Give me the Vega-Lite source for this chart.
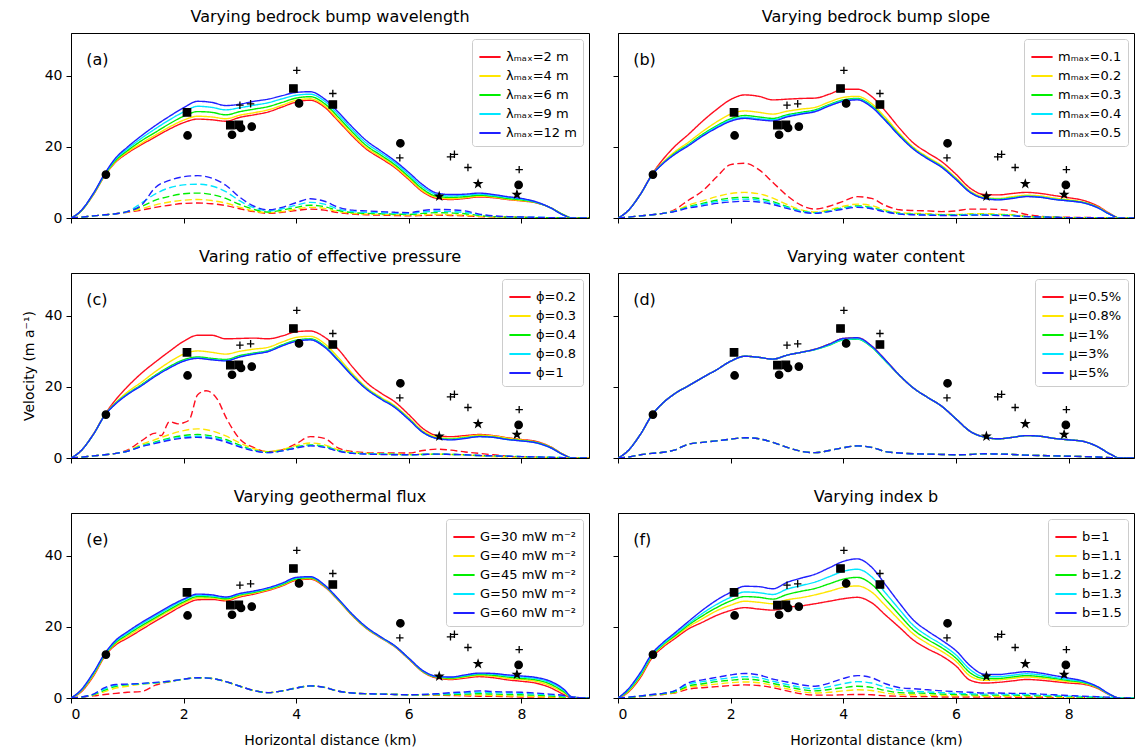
{
"$schema":"https://vega.github.io/schema/vega-lite/v6.json",
"padding":{"left":21,"top":8,"right":0,"bottom":0},
"config":{"font":"DejaVu Sans","view":{"stroke":"black","strokeWidth":1},
"axis":{"grid":false,"domainColor":"black","tickColor":"black","tickSize":5,"labelFontSize":14,"labelColor":"black","titleFontSize":14,"titleFontWeight":"normal","titleColor":"black","labelPadding":4,"format":"d"},
"title":{"fontSize":16,"fontWeight":"normal","offset":8,"color":"black"},
"legend":{"orient":"top-right","offset":6,"fillColor":"white","strokeColor":"#cccccc","cornerRadius":3,"padding":6,"symbolType":"stroke","symbolStrokeWidth":2,"symbolSize":450,"labelFontSize":13,"labelColor":"black","rowPadding":0}},
"columns":2,"align":"each","spacing":{"row":22,"column":22},
"resolve":{"scale":{"x":"independent","y":"independent","color":"independent","shape":"independent","strokeDash":"independent"},"legend":{"color":"independent"}},
"datasets":{
"obs":[
{"m":"circle","x":0.62,"y":12.2},{"m":"circle","x":2.07,"y":23.2},{"m":"circle","x":2.86,"y":23.4},{"m":"circle","x":3.02,"y":25.3},{"m":"circle","x":3.21,"y":25.7},{"m":"circle","x":4.05,"y":32.2},{"m":"circle","x":5.85,"y":21.0},{"m":"circle","x":7.95,"y":9.3},
{"m":"square","x":2.06,"y":29.7},{"m":"square","x":2.83,"y":26.1},{"m":"square","x":2.98,"y":26.2},{"m":"square","x":3.95,"y":36.4},{"m":"square","x":4.65,"y":31.9},
{"m":"plus","x":3.0,"y":31.7},{"m":"plus","x":3.19,"y":32.1},{"m":"plus","x":4.01,"y":41.5},{"m":"plus","x":4.65,"y":35.0},{"m":"plus","x":5.84,"y":16.9},{"m":"plus","x":6.74,"y":17.2},{"m":"plus","x":6.81,"y":17.9},{"m":"plus","x":7.05,"y":14.2},{"m":"plus","x":7.96,"y":13.6},
{"m":"star","x":6.54,"y":6.1},{"m":"star","x":7.23,"y":9.6},{"m":"star","x":7.92,"y":6.6}
],
"lines":[
{"p":"a","t":"s","x":0,"v1":0,"v2":0,"v3":0,"v4":0,"v5":0},
{"p":"a","t":"s","x":0.15,"v1":1.5,"v2":1.5,"v3":1.5,"v4":1.6,"v5":1.6},
{"p":"a","t":"s","x":0.4,"v1":6.6,"v2":6.7,"v3":6.8,"v4":6.9,"v5":7.0},
{"p":"a","t":"s","x":0.6,"v1":11.9,"v2":12.0,"v3":12.2,"v4":12.3,"v5":12.5},
{"p":"a","t":"s","x":0.8,"v1":15.8,"v2":16.0,"v3":16.3,"v4":16.7,"v5":17.0},
{"p":"a","t":"s","x":1.0,"v1":18.2,"v2":18.5,"v3":18.9,"v4":19.4,"v5":19.9},
{"p":"a","t":"s","x":1.25,"v1":20.6,"v2":21.0,"v3":21.7,"v4":22.4,"v5":23.1},
{"p":"a","t":"s","x":1.5,"v1":22.8,"v2":23.3,"v3":24.1,"v4":25.1,"v5":26.0},
{"p":"a","t":"s","x":1.75,"v1":25.0,"v2":25.6,"v3":26.5,"v4":27.6,"v5":28.6},
{"p":"a","t":"s","x":2.0,"v1":26.8,"v2":27.5,"v3":28.6,"v4":29.8,"v5":31.0},
{"p":"a","t":"s","x":2.25,"v1":27.8,"v2":28.6,"v3":29.9,"v4":31.4,"v5":32.8},
{"p":"a","t":"s","x":2.5,"v1":27.6,"v2":28.4,"v3":29.7,"v4":31.1,"v5":32.5},
{"p":"a","t":"s","x":2.75,"v1":27.2,"v2":27.9,"v3":29.0,"v4":30.4,"v5":31.6},
{"p":"a","t":"s","x":3.0,"v1":28.3,"v2":28.9,"v3":29.9,"v4":31.0,"v5":32.0},
{"p":"a","t":"s","x":3.25,"v1":29.0,"v2":29.6,"v3":30.6,"v4":31.7,"v5":32.8},
{"p":"a","t":"s","x":3.5,"v1":29.8,"v2":30.4,"v3":31.3,"v4":32.4,"v5":33.4},
{"p":"a","t":"s","x":3.75,"v1":31.2,"v2":31.7,"v3":32.5,"v4":33.5,"v5":34.4},
{"p":"a","t":"s","x":4.0,"v1":32.6,"v2":33.1,"v3":33.7,"v4":34.5,"v5":35.3},
{"p":"a","t":"s","x":4.25,"v1":33.1,"v2":33.5,"v3":34.1,"v4":34.8,"v5":35.5},
{"p":"a","t":"s","x":4.5,"v1":31.2,"v2":31.6,"v3":32.2,"v4":32.9,"v5":33.5},
{"p":"a","t":"s","x":4.75,"v1":27.2,"v2":27.6,"v3":28.3,"v4":29.0,"v5":29.7},
{"p":"a","t":"s","x":5.0,"v1":23.0,"v2":23.4,"v3":24.1,"v4":24.8,"v5":25.5},
{"p":"a","t":"s","x":5.25,"v1":19.3,"v2":19.7,"v3":20.3,"v4":21.0,"v5":21.7},
{"p":"a","t":"s","x":5.5,"v1":16.8,"v2":17.2,"v3":17.7,"v4":18.3,"v5":18.9},
{"p":"a","t":"s","x":5.75,"v1":14.2,"v2":14.5,"v3":15.0,"v4":15.6,"v5":16.1},
{"p":"a","t":"s","x":6.0,"v1":10.8,"v2":11.1,"v3":11.6,"v4":12.2,"v5":12.8},
{"p":"a","t":"s","x":6.25,"v1":7.3,"v2":7.6,"v3":8.1,"v4":8.7,"v5":9.3},
{"p":"a","t":"s","x":6.5,"v1":5.5,"v2":5.8,"v3":6.1,"v4":6.6,"v5":7.0},
{"p":"a","t":"s","x":6.75,"v1":5.2,"v2":5.4,"v3":5.8,"v4":6.2,"v5":6.6},
{"p":"a","t":"s","x":7.0,"v1":5.5,"v2":5.7,"v3":6.0,"v4":6.4,"v5":6.7},
{"p":"a","t":"s","x":7.25,"v1":5.9,"v2":6.1,"v3":6.4,"v4":6.7,"v5":7.0},
{"p":"a","t":"s","x":7.5,"v1":5.7,"v2":5.9,"v3":6.1,"v4":6.3,"v5":6.6},
{"p":"a","t":"s","x":7.75,"v1":5.2,"v2":5.3,"v3":5.5,"v4":5.8,"v5":6.0},
{"p":"a","t":"s","x":8.0,"v1":4.8,"v2":4.9,"v3":5.1,"v4":5.3,"v5":5.5},
{"p":"a","t":"s","x":8.25,"v1":4.3,"v2":4.4,"v3":4.4,"v4":4.5,"v5":4.6},
{"p":"a","t":"s","x":8.5,"v1":3.0,"v2":3.0,"v3":3.0,"v4":3.0,"v5":3.0},
{"p":"a","t":"s","x":8.75,"v1":0.9,"v2":0.9,"v3":0.9,"v4":0.8,"v5":0.8},
{"p":"a","t":"s","x":8.9,"v1":0,"v2":0,"v3":0,"v4":0,"v5":0},
{"p":"a","t":"s","x":9.2,"v1":0,"v2":0,"v3":0,"v4":0,"v5":0},
{"p":"a","t":"d","x":0,"v1":0,"v2":0,"v3":0,"v4":0,"v5":0},
{"p":"a","t":"d","x":0.15,"v1":0.2,"v2":0.2,"v3":0.2,"v4":0.2,"v5":0.2},
{"p":"a","t":"d","x":0.4,"v1":0.6,"v2":0.6,"v3":0.6,"v4":0.6,"v5":0.6},
{"p":"a","t":"d","x":0.6,"v1":0.9,"v2":0.9,"v3":0.9,"v4":0.9,"v5":0.9},
{"p":"a","t":"d","x":0.8,"v1":1.2,"v2":1.2,"v3":1.2,"v4":1.2,"v5":1.2},
{"p":"a","t":"d","x":1.0,"v1":1.6,"v2":1.7,"v3":1.8,"v4":1.8,"v5":1.8},
{"p":"a","t":"d","x":1.25,"v1":2.2,"v2":2.6,"v3":3.2,"v4":4.2,"v5":3.6},
{"p":"a","t":"d","x":1.5,"v1":3.0,"v2":3.7,"v3":5.0,"v4":6.8,"v5":8.6},
{"p":"a","t":"d","x":1.75,"v1":3.6,"v2":4.5,"v3":6.1,"v4":8.5,"v5":10.6},
{"p":"a","t":"d","x":2.0,"v1":4.1,"v2":5.0,"v3":6.8,"v4":9.3,"v5":11.6},
{"p":"a","t":"d","x":2.25,"v1":4.2,"v2":5.2,"v3":7.0,"v4":9.5,"v5":11.9},
{"p":"a","t":"d","x":2.5,"v1":4.0,"v2":4.9,"v3":6.6,"v4":9.0,"v5":11.2},
{"p":"a","t":"d","x":2.75,"v1":3.5,"v2":4.2,"v3":5.5,"v4":7.4,"v5":9.2},
{"p":"a","t":"d","x":3.0,"v1":2.6,"v2":3.0,"v3":3.8,"v4":4.8,"v5":5.8},
{"p":"a","t":"d","x":3.25,"v1":1.8,"v2":2.0,"v3":2.4,"v4":2.9,"v5":3.3},
{"p":"a","t":"d","x":3.5,"v1":1.3,"v2":1.5,"v3":1.7,"v4":2.0,"v5":2.3},
{"p":"a","t":"d","x":3.75,"v1":1.6,"v2":1.8,"v3":2.2,"v4":2.6,"v5":3.0},
{"p":"a","t":"d","x":4.0,"v1":2.1,"v2":2.5,"v3":3.0,"v4":3.6,"v5":4.3},
{"p":"a","t":"d","x":4.25,"v1":2.5,"v2":3.0,"v3":3.6,"v4":4.4,"v5":5.4},
{"p":"a","t":"d","x":4.5,"v1":2.2,"v2":2.7,"v3":3.2,"v4":3.9,"v5":4.7},
{"p":"a","t":"d","x":4.75,"v1":1.5,"v2":1.8,"v3":2.1,"v4":2.5,"v5":3.0},
{"p":"a","t":"d","x":5.0,"v1":1.1,"v2":1.3,"v3":1.5,"v4":1.8,"v5":2.2},
{"p":"a","t":"d","x":5.25,"v1":0.9,"v2":1.1,"v3":1.3,"v4":1.6,"v5":2.0},
{"p":"a","t":"d","x":5.5,"v1":0.8,"v2":1.0,"v3":1.2,"v4":1.5,"v5":1.8},
{"p":"a","t":"d","x":5.75,"v1":0.7,"v2":0.9,"v3":1.1,"v4":1.3,"v5":1.6},
{"p":"a","t":"d","x":6.0,"v1":0.6,"v2":0.8,"v3":1.0,"v4":1.2,"v5":1.5},
{"p":"a","t":"d","x":6.25,"v1":0.7,"v2":0.9,"v3":1.3,"v4":1.7,"v5":2.1},
{"p":"a","t":"d","x":6.5,"v1":0.8,"v2":1.0,"v3":1.5,"v4":1.9,"v5":2.4},
{"p":"a","t":"d","x":6.75,"v1":0.7,"v2":0.9,"v3":1.4,"v4":1.8,"v5":2.3},
{"p":"a","t":"d","x":7.0,"v1":0.6,"v2":0.8,"v3":1.2,"v4":1.6,"v5":2.0},
{"p":"a","t":"d","x":7.25,"v1":0.4,"v2":0.5,"v3":0.7,"v4":0.9,"v5":1.1},
{"p":"a","t":"d","x":7.5,"v1":0.3,"v2":0.3,"v3":0.4,"v4":0.5,"v5":0.6},
{"p":"a","t":"d","x":7.75,"v1":0.2,"v2":0.2,"v3":0.3,"v4":0.3,"v5":0.4},
{"p":"a","t":"d","x":8.0,"v1":0.2,"v2":0.2,"v3":0.2,"v4":0.2,"v5":0.3},
{"p":"a","t":"d","x":8.25,"v1":0.1,"v2":0.1,"v3":0.1,"v4":0.2,"v5":0.2},
{"p":"a","t":"d","x":8.5,"v1":0.1,"v2":0.1,"v3":0.1,"v4":0.1,"v5":0.1},
{"p":"a","t":"d","x":8.75,"v1":0,"v2":0,"v3":0,"v4":0,"v5":0},
{"p":"a","t":"d","x":9.2,"v1":0,"v2":0,"v3":0,"v4":0,"v5":0},
{"p":"b","t":"s","x":0,"v1":0,"v2":0,"v3":0,"v4":0,"v5":0},
{"p":"b","t":"s","x":0.15,"v1":1.6,"v2":1.6,"v3":1.6,"v4":1.6,"v5":1.6},
{"p":"b","t":"s","x":0.4,"v1":6.8,"v2":6.7,"v3":6.7,"v4":6.7,"v5":6.7},
{"p":"b","t":"s","x":0.6,"v1":12.2,"v2":12.1,"v3":12.0,"v4":12.0,"v5":12.0},
{"p":"b","t":"s","x":0.8,"v1":16.5,"v2":15.7,"v3":15.4,"v4":15.4,"v5":15.3},
{"p":"b","t":"s","x":1.0,"v1":20.0,"v2":18.5,"v3":18.1,"v4":17.9,"v5":17.8},
{"p":"b","t":"s","x":1.25,"v1":23.5,"v2":21.3,"v3":20.7,"v4":20.5,"v5":20.3},
{"p":"b","t":"s","x":1.5,"v1":27.2,"v2":24.3,"v3":23.5,"v4":23.2,"v5":23.0},
{"p":"b","t":"s","x":1.75,"v1":30.5,"v2":27.0,"v3":25.9,"v4":25.6,"v5":25.3},
{"p":"b","t":"s","x":2.0,"v1":33.3,"v2":29.2,"v3":27.9,"v4":27.5,"v5":27.2},
{"p":"b","t":"s","x":2.25,"v1":34.6,"v2":30.1,"v3":28.8,"v4":28.3,"v5":28.0},
{"p":"b","t":"s","x":2.5,"v1":34.2,"v2":29.7,"v3":28.4,"v4":27.9,"v5":27.6},
{"p":"b","t":"s","x":2.75,"v1":33.2,"v2":29.2,"v3":28.0,"v4":27.6,"v5":27.3},
{"p":"b","t":"s","x":3.0,"v1":33.4,"v2":30.0,"v3":29.0,"v4":28.7,"v5":28.4},
{"p":"b","t":"s","x":3.25,"v1":33.6,"v2":30.6,"v3":29.7,"v4":29.4,"v5":29.2},
{"p":"b","t":"s","x":3.5,"v1":33.7,"v2":31.1,"v3":30.4,"v4":30.1,"v5":29.9},
{"p":"b","t":"s","x":3.75,"v1":34.8,"v2":32.6,"v3":31.9,"v4":31.7,"v5":31.5},
{"p":"b","t":"s","x":4.0,"v1":36.2,"v2":33.9,"v3":33.2,"v4":33.0,"v5":32.8},
{"p":"b","t":"s","x":4.25,"v1":36.2,"v2":34.2,"v3":33.6,"v4":33.4,"v5":33.2},
{"p":"b","t":"s","x":4.5,"v1":34.2,"v2":32.2,"v3":31.6,"v4":31.4,"v5":31.2},
{"p":"b","t":"s","x":4.75,"v1":30.0,"v2":28.2,"v3":27.6,"v4":27.4,"v5":27.3},
{"p":"b","t":"s","x":5.0,"v1":25.2,"v2":23.7,"v3":23.3,"v4":23.1,"v5":23.0},
{"p":"b","t":"s","x":5.25,"v1":21.0,"v2":19.8,"v3":19.5,"v4":19.4,"v5":19.3},
{"p":"b","t":"s","x":5.5,"v1":18.3,"v2":17.1,"v3":16.8,"v4":16.7,"v5":16.6},
{"p":"b","t":"s","x":5.75,"v1":15.8,"v2":14.7,"v3":14.4,"v4":14.3,"v5":14.2},
{"p":"b","t":"s","x":6.0,"v1":12.3,"v2":11.3,"v3":11.0,"v4":10.9,"v5":10.8},
{"p":"b","t":"s","x":6.25,"v1":8.4,"v2":7.6,"v3":7.3,"v4":7.3,"v5":7.2},
{"p":"b","t":"s","x":6.5,"v1":6.6,"v2":5.9,"v3":5.6,"v4":5.6,"v5":5.5},
{"p":"b","t":"s","x":6.75,"v1":6.5,"v2":5.5,"v3":5.3,"v4":5.2,"v5":5.1},
{"p":"b","t":"s","x":7.0,"v1":6.9,"v2":6.0,"v3":5.7,"v4":5.6,"v5":5.5},
{"p":"b","t":"s","x":7.25,"v1":7.2,"v2":6.4,"v3":6.1,"v4":6.1,"v5":6.0},
{"p":"b","t":"s","x":7.5,"v1":6.9,"v2":6.2,"v3":5.9,"v4":5.9,"v5":5.8},
{"p":"b","t":"s","x":7.75,"v1":6.3,"v2":5.6,"v3":5.3,"v4":5.3,"v5":5.2},
{"p":"b","t":"s","x":8.0,"v1":5.7,"v2":5.1,"v3":4.9,"v4":4.8,"v5":4.8},
{"p":"b","t":"s","x":8.25,"v1":5.0,"v2":4.5,"v3":4.4,"v4":4.3,"v5":4.3},
{"p":"b","t":"s","x":8.5,"v1":3.5,"v2":3.2,"v3":3.1,"v4":3.0,"v5":3.0},
{"p":"b","t":"s","x":8.75,"v1":1.1,"v2":1.0,"v3":0.9,"v4":0.9,"v5":0.9},
{"p":"b","t":"s","x":8.9,"v1":0,"v2":0,"v3":0,"v4":0,"v5":0},
{"p":"b","t":"s","x":9.2,"v1":0,"v2":0,"v3":0,"v4":0,"v5":0},
{"p":"b","t":"d","x":0,"v1":0,"v2":0,"v3":0,"v4":0,"v5":0},
{"p":"b","t":"d","x":0.15,"v1":0.2,"v2":0.2,"v3":0.2,"v4":0.2,"v5":0.2},
{"p":"b","t":"d","x":0.4,"v1":0.6,"v2":0.6,"v3":0.6,"v4":0.6,"v5":0.6},
{"p":"b","t":"d","x":0.6,"v1":0.9,"v2":0.9,"v3":0.9,"v4":0.9,"v5":0.9},
{"p":"b","t":"d","x":0.8,"v1":1.3,"v2":1.3,"v3":1.3,"v4":1.3,"v5":1.3},
{"p":"b","t":"d","x":1.0,"v1":2.3,"v2":2.0,"v3":1.9,"v4":1.9,"v5":1.8},
{"p":"b","t":"d","x":1.25,"v1":5.0,"v2":3.6,"v3":3.2,"v4":3.0,"v5":2.8},
{"p":"b","t":"d","x":1.5,"v1":7.6,"v2":4.8,"v3":4.1,"v4":3.8,"v5":3.4},
{"p":"b","t":"d","x":1.75,"v1":11.5,"v2":6.0,"v3":5.0,"v4":4.6,"v5":4.1},
{"p":"b","t":"d","x":2.0,"v1":15.0,"v2":6.9,"v3":5.6,"v4":5.1,"v5":4.5},
{"p":"b","t":"d","x":2.25,"v1":15.4,"v2":7.2,"v3":5.8,"v4":5.3,"v5":4.7},
{"p":"b","t":"d","x":2.5,"v1":13.6,"v2":6.8,"v3":5.5,"v4":5.0,"v5":4.5},
{"p":"b","t":"d","x":2.75,"v1":10.0,"v2":5.6,"v3":4.6,"v4":4.2,"v5":3.8},
{"p":"b","t":"d","x":3.0,"v1":6.3,"v2":3.8,"v3":3.2,"v4":3.0,"v5":2.7},
{"p":"b","t":"d","x":3.25,"v1":3.6,"v2":2.3,"v3":2.0,"v4":1.9,"v5":1.7},
{"p":"b","t":"d","x":3.5,"v1":2.5,"v2":1.7,"v3":1.5,"v4":1.4,"v5":1.3},
{"p":"b","t":"d","x":3.75,"v1":3.3,"v2":2.3,"v3":2.0,"v4":1.9,"v5":1.8},
{"p":"b","t":"d","x":4.0,"v1":4.7,"v2":3.3,"v3":2.9,"v4":2.7,"v5":2.5},
{"p":"b","t":"d","x":4.25,"v1":6.0,"v2":3.9,"v3":3.4,"v4":3.2,"v5":3.0},
{"p":"b","t":"d","x":4.5,"v1":5.5,"v2":3.5,"v3":3.0,"v4":2.8,"v5":2.6},
{"p":"b","t":"d","x":4.75,"v1":3.5,"v2":2.2,"v3":1.9,"v4":1.8,"v5":1.7},
{"p":"b","t":"d","x":5.0,"v1":2.3,"v2":1.5,"v3":1.3,"v4":1.2,"v5":1.1},
{"p":"b","t":"d","x":5.25,"v1":2.1,"v2":1.3,"v3":1.1,"v4":1.0,"v5":0.9},
{"p":"b","t":"d","x":5.5,"v1":2.0,"v2":1.2,"v3":1.0,"v4":0.9,"v5":0.8},
{"p":"b","t":"d","x":5.75,"v1":1.8,"v2":1.0,"v3":0.9,"v4":0.8,"v5":0.7},
{"p":"b","t":"d","x":6.0,"v1":2.0,"v2":1.0,"v3":0.9,"v4":0.8,"v5":0.7},
{"p":"b","t":"d","x":6.25,"v1":2.5,"v2":1.2,"v3":1.0,"v4":0.9,"v5":0.8},
{"p":"b","t":"d","x":6.5,"v1":2.5,"v2":1.2,"v3":1.0,"v4":0.9,"v5":0.8},
{"p":"b","t":"d","x":6.75,"v1":2.4,"v2":1.1,"v3":0.9,"v4":0.8,"v5":0.7},
{"p":"b","t":"d","x":7.0,"v1":2.0,"v2":0.9,"v3":0.8,"v4":0.7,"v5":0.6},
{"p":"b","t":"d","x":7.25,"v1":1.0,"v2":0.5,"v3":0.4,"v4":0.4,"v5":0.4},
{"p":"b","t":"d","x":7.5,"v1":0.5,"v2":0.3,"v3":0.3,"v4":0.3,"v5":0.3},
{"p":"b","t":"d","x":7.75,"v1":0.3,"v2":0.2,"v3":0.2,"v4":0.2,"v5":0.2},
{"p":"b","t":"d","x":8.0,"v1":0.2,"v2":0.1,"v3":0.1,"v4":0.1,"v5":0.1},
{"p":"b","t":"d","x":8.5,"v1":0.1,"v2":0.1,"v3":0.1,"v4":0.1,"v5":0.1},
{"p":"b","t":"d","x":8.75,"v1":0,"v2":0,"v3":0,"v4":0,"v5":0},
{"p":"b","t":"d","x":9.2,"v1":0,"v2":0,"v3":0,"v4":0,"v5":0},
{"p":"c","t":"s","x":0,"v1":0,"v2":0,"v3":0,"v4":0,"v5":0},
{"p":"c","t":"s","x":0.15,"v1":1.6,"v2":1.6,"v3":1.6,"v4":1.6,"v5":1.6},
{"p":"c","t":"s","x":0.4,"v1":6.8,"v2":6.7,"v3":6.7,"v4":6.7,"v5":6.7},
{"p":"c","t":"s","x":0.6,"v1":12.2,"v2":12.1,"v3":12.0,"v4":12.0,"v5":12.0},
{"p":"c","t":"s","x":0.8,"v1":16.5,"v2":15.7,"v3":15.5,"v4":15.4,"v5":15.3},
{"p":"c","t":"s","x":1.0,"v1":20.0,"v2":18.5,"v3":18.0,"v4":17.9,"v5":17.8},
{"p":"c","t":"s","x":1.25,"v1":23.8,"v2":21.3,"v3":20.6,"v4":20.4,"v5":20.3},
{"p":"c","t":"s","x":1.5,"v1":27.0,"v2":24.3,"v3":23.3,"v4":23.1,"v5":23.0},
{"p":"c","t":"s","x":1.75,"v1":30.0,"v2":27.0,"v3":25.7,"v4":25.4,"v5":25.3},
{"p":"c","t":"s","x":2.0,"v1":32.8,"v2":29.2,"v3":27.6,"v4":27.3,"v5":27.2},
{"p":"c","t":"s","x":2.25,"v1":34.5,"v2":30.1,"v3":28.4,"v4":28.1,"v5":28.0},
{"p":"c","t":"s","x":2.5,"v1":34.5,"v2":29.7,"v3":28.0,"v4":27.7,"v5":27.6},
{"p":"c","t":"s","x":2.75,"v1":33.5,"v2":29.2,"v3":27.7,"v4":27.4,"v5":27.3},
{"p":"c","t":"s","x":3.0,"v1":33.6,"v2":30.0,"v3":28.8,"v4":28.5,"v5":28.4},
{"p":"c","t":"s","x":3.25,"v1":33.7,"v2":30.6,"v3":29.5,"v4":29.3,"v5":29.2},
{"p":"c","t":"s","x":3.5,"v1":33.5,"v2":31.1,"v3":30.2,"v4":30.0,"v5":29.9},
{"p":"c","t":"s","x":3.75,"v1":34.3,"v2":32.6,"v3":31.8,"v4":31.6,"v5":31.5},
{"p":"c","t":"s","x":4.0,"v1":35.5,"v2":33.9,"v3":33.1,"v4":32.9,"v5":32.8},
{"p":"c","t":"s","x":4.25,"v1":35.7,"v2":34.2,"v3":33.5,"v4":33.3,"v5":33.2},
{"p":"c","t":"s","x":4.5,"v1":34.0,"v2":32.2,"v3":31.5,"v4":31.3,"v5":31.2},
{"p":"c","t":"s","x":4.75,"v1":30.5,"v2":28.2,"v3":27.5,"v4":27.4,"v5":27.3},
{"p":"c","t":"s","x":5.0,"v1":25.6,"v2":23.7,"v3":23.2,"v4":23.1,"v5":23.0},
{"p":"c","t":"s","x":5.25,"v1":21.2,"v2":19.8,"v3":19.5,"v4":19.4,"v5":19.3},
{"p":"c","t":"s","x":5.5,"v1":18.3,"v2":17.1,"v3":16.8,"v4":16.7,"v5":16.6},
{"p":"c","t":"s","x":5.75,"v1":15.8,"v2":14.7,"v3":14.4,"v4":14.3,"v5":14.2},
{"p":"c","t":"s","x":6.0,"v1":12.2,"v2":11.3,"v3":11.0,"v4":10.9,"v5":10.8},
{"p":"c","t":"s","x":6.25,"v1":8.3,"v2":7.6,"v3":7.3,"v4":7.2,"v5":7.2},
{"p":"c","t":"s","x":6.5,"v1":6.3,"v2":5.9,"v3":5.6,"v4":5.5,"v5":5.5},
{"p":"c","t":"s","x":6.75,"v1":6.0,"v2":5.5,"v3":5.3,"v4":5.2,"v5":5.1},
{"p":"c","t":"s","x":7.0,"v1":6.3,"v2":6.0,"v3":5.7,"v4":5.6,"v5":5.5},
{"p":"c","t":"s","x":7.25,"v1":6.6,"v2":6.4,"v3":6.1,"v4":6.0,"v5":6.0},
{"p":"c","t":"s","x":7.5,"v1":6.3,"v2":6.2,"v3":5.9,"v4":5.8,"v5":5.8},
{"p":"c","t":"s","x":7.75,"v1":5.7,"v2":5.6,"v3":5.3,"v4":5.2,"v5":5.2},
{"p":"c","t":"s","x":8.0,"v1":5.2,"v2":5.1,"v3":4.9,"v4":4.8,"v5":4.8},
{"p":"c","t":"s","x":8.25,"v1":4.7,"v2":4.5,"v3":4.4,"v4":4.3,"v5":4.3},
{"p":"c","t":"s","x":8.5,"v1":3.3,"v2":3.2,"v3":3.1,"v4":3.0,"v5":3.0},
{"p":"c","t":"s","x":8.75,"v1":1.0,"v2":1.0,"v3":0.9,"v4":0.9,"v5":0.9},
{"p":"c","t":"s","x":8.9,"v1":0,"v2":0,"v3":0,"v4":0,"v5":0},
{"p":"c","t":"s","x":9.2,"v1":0,"v2":0,"v3":0,"v4":0,"v5":0},
{"p":"c","t":"d","x":0,"v1":0,"v2":0,"v3":0,"v4":0,"v5":0},
{"p":"c","t":"d","x":0.15,"v1":0.2,"v2":0.2,"v3":0.2,"v4":0.2,"v5":0.2},
{"p":"c","t":"d","x":0.4,"v1":0.6,"v2":0.6,"v3":0.6,"v4":0.6,"v5":0.6},
{"p":"c","t":"d","x":0.6,"v1":0.9,"v2":0.9,"v3":0.9,"v4":0.9,"v5":0.9},
{"p":"c","t":"d","x":0.8,"v1":1.3,"v2":1.3,"v3":1.3,"v4":1.3,"v5":1.3},
{"p":"c","t":"d","x":1.0,"v1":2.2,"v2":2.0,"v3":1.9,"v4":1.9,"v5":1.9},
{"p":"c","t":"d","x":1.25,"v1":4.8,"v2":3.8,"v3":3.4,"v4":3.3,"v5":3.2},
{"p":"c","t":"d","x":1.5,"v1":7.0,"v2":5.2,"v3":4.5,"v4":4.3,"v5":4.1},
{"p":"c","t":"d","x":1.6,"v1":6.3},
{"p":"c","t":"d","x":1.75,"v1":10.2,"v2":6.6,"v3":5.6,"v4":5.3,"v5":5.0},
{"p":"c","t":"d","x":1.9,"v1":9.6},
{"p":"c","t":"d","x":2.0,"v1":9.9,"v2":7.7,"v3":6.3,"v4":5.9,"v5":5.6},
{"p":"c","t":"d","x":2.1,"v1":10.7},
{"p":"c","t":"d","x":2.25,"v1":17.8,"v2":8.2,"v3":6.6,"v4":6.1,"v5":5.8},
{"p":"c","t":"d","x":2.4,"v1":18.9},
{"p":"c","t":"d","x":2.5,"v1":18.3,"v2":7.6,"v3":6.2,"v4":5.8,"v5":5.5},
{"p":"c","t":"d","x":2.6,"v1":16.5},
{"p":"c","t":"d","x":2.75,"v1":11.5,"v2":6.2,"v3":5.2,"v4":4.8,"v5":4.5},
{"p":"c","t":"d","x":3.0,"v1":5.3,"v2":4.2,"v3":3.6,"v4":3.3,"v5":3.1},
{"p":"c","t":"d","x":3.25,"v1":2.9,"v2":2.6,"v3":2.2,"v4":2.1,"v5":2.0},
{"p":"c","t":"d","x":3.5,"v1":1.8,"v2":1.8,"v3":1.6,"v4":1.5,"v5":1.5},
{"p":"c","t":"d","x":3.75,"v1":2.3,"v2":2.4,"v3":2.1,"v4":2.0,"v5":2.0},
{"p":"c","t":"d","x":4.0,"v1":4.0,"v2":3.5,"v3":3.1,"v4":2.9,"v5":2.8},
{"p":"c","t":"d","x":4.25,"v1":6.0,"v2":4.2,"v3":3.7,"v4":3.5,"v5":3.4},
{"p":"c","t":"d","x":4.5,"v1":5.5,"v2":3.7,"v3":3.3,"v4":3.1,"v5":3.0},
{"p":"c","t":"d","x":4.75,"v1":2.8,"v2":2.3,"v3":2.1,"v4":2.0,"v5":1.9},
{"p":"c","t":"d","x":5.0,"v1":1.8,"v2":1.6,"v3":1.4,"v4":1.4,"v5":1.3},
{"p":"c","t":"d","x":5.25,"v1":1.5,"v2":1.3,"v3":1.2,"v4":1.2,"v5":1.1},
{"p":"c","t":"d","x":5.5,"v1":1.4,"v2":1.2,"v3":1.1,"v4":1.1,"v5":1.0},
{"p":"c","t":"d","x":5.75,"v1":1.4,"v2":1.1,"v3":1.0,"v4":1.0,"v5":0.9},
{"p":"c","t":"d","x":6.0,"v1":1.4,"v2":1.0,"v3":0.9,"v4":0.9,"v5":0.9},
{"p":"c","t":"d","x":6.25,"v1":2.1,"v2":1.1,"v3":1.0,"v4":1.0,"v5":1.0},
{"p":"c","t":"d","x":6.5,"v1":2.5,"v2":1.1,"v3":1.1,"v4":1.1,"v5":1.1},
{"p":"c","t":"d","x":6.75,"v1":2.2,"v2":1.0,"v3":1.0,"v4":1.0,"v5":1.0},
{"p":"c","t":"d","x":7.0,"v1":1.7,"v2":0.9,"v3":0.9,"v4":0.9,"v5":0.9},
{"p":"c","t":"d","x":7.25,"v1":1.3,"v2":0.6,"v3":0.7,"v4":0.7,"v5":0.7},
{"p":"c","t":"d","x":7.5,"v1":0.9,"v2":0.4,"v3":0.6,"v4":0.6,"v5":0.6},
{"p":"c","t":"d","x":7.75,"v1":0.5,"v2":0.3,"v3":0.5,"v4":0.5,"v5":0.5},
{"p":"c","t":"d","x":8.0,"v1":0.3,"v2":0.2,"v3":0.4,"v4":0.4,"v5":0.4},
{"p":"c","t":"d","x":8.25,"v1":0.2,"v2":0.1,"v3":0.3,"v4":0.3,"v5":0.3},
{"p":"c","t":"d","x":8.5,"v1":0.1,"v2":0.1,"v3":0.2,"v4":0.2,"v5":0.2},
{"p":"c","t":"d","x":8.75,"v1":0,"v2":0,"v3":0.1,"v4":0.1,"v5":0.1},
{"p":"c","t":"d","x":8.9,"v1":0,"v2":0,"v3":0,"v4":0,"v5":0},
{"p":"c","t":"d","x":9.2,"v1":0,"v2":0,"v3":0,"v4":0,"v5":0},
{"p":"d","t":"s","x":0,"v1":0,"v2":0,"v3":0,"v4":0,"v5":0},
{"p":"d","t":"s","x":0.15,"v1":1.6,"v2":1.6,"v3":1.6,"v4":1.6,"v5":1.6},
{"p":"d","t":"s","x":0.4,"v1":6.7,"v2":6.7,"v3":6.7,"v4":6.7,"v5":6.7},
{"p":"d","t":"s","x":0.6,"v1":12.0,"v2":12.0,"v3":12.0,"v4":12.0,"v5":12.0},
{"p":"d","t":"s","x":0.8,"v1":15.5,"v2":15.5,"v3":15.5,"v4":15.5,"v5":15.5},
{"p":"d","t":"s","x":1.0,"v1":18.0,"v2":18.0,"v3":18.0,"v4":18.0,"v5":18.0},
{"p":"d","t":"s","x":1.25,"v1":20.3,"v2":20.3,"v3":20.3,"v4":20.3,"v5":20.3},
{"p":"d","t":"s","x":1.5,"v1":22.6,"v2":22.6,"v3":22.6,"v4":22.6,"v5":22.6},
{"p":"d","t":"s","x":1.75,"v1":24.8,"v2":24.8,"v3":24.8,"v4":24.8,"v5":24.8},
{"p":"d","t":"s","x":2.0,"v1":27.2,"v2":27.2,"v3":27.2,"v4":27.2,"v5":27.2},
{"p":"d","t":"s","x":2.25,"v1":28.6,"v2":28.6,"v3":28.6,"v4":28.6,"v5":28.6},
{"p":"d","t":"s","x":2.5,"v1":28.3,"v2":28.3,"v3":28.3,"v4":28.3,"v5":28.3},
{"p":"d","t":"s","x":2.75,"v1":27.8,"v2":27.8,"v3":27.8,"v4":27.8,"v5":27.8},
{"p":"d","t":"s","x":3.0,"v1":28.9,"v2":28.9,"v3":28.9,"v4":28.9,"v5":28.9},
{"p":"d","t":"s","x":3.25,"v1":29.7,"v2":29.7,"v3":29.7,"v4":29.7,"v5":29.7},
{"p":"d","t":"s","x":3.5,"v1":30.6,"v2":30.6,"v3":30.5,"v4":30.5,"v5":30.6},
{"p":"d","t":"s","x":3.75,"v1":32.0,"v2":32.0,"v3":31.7,"v4":31.8,"v5":32.0},
{"p":"d","t":"s","x":4.0,"v1":33.6,"v2":33.5,"v3":33.2,"v4":33.3,"v5":33.6},
{"p":"d","t":"s","x":4.25,"v1":33.8,"v2":33.7,"v3":33.4,"v4":33.5,"v5":33.8},
{"p":"d","t":"s","x":4.5,"v1":31.5,"v2":31.4,"v3":31.2,"v4":31.3,"v5":31.5},
{"p":"d","t":"s","x":4.75,"v1":27.5,"v2":27.4,"v3":27.2,"v4":27.3,"v5":27.5},
{"p":"d","t":"s","x":5.0,"v1":23.2,"v2":23.2,"v3":23.2,"v4":23.2,"v5":23.2},
{"p":"d","t":"s","x":5.25,"v1":19.6,"v2":19.6,"v3":19.6,"v4":19.6,"v5":19.6},
{"p":"d","t":"s","x":5.5,"v1":17.0,"v2":17.0,"v3":17.0,"v4":17.0,"v5":17.0},
{"p":"d","t":"s","x":5.75,"v1":14.5,"v2":14.5,"v3":14.5,"v4":14.5,"v5":14.5},
{"p":"d","t":"s","x":6.0,"v1":11.0,"v2":11.0,"v3":11.0,"v4":11.0,"v5":11.0},
{"p":"d","t":"s","x":6.25,"v1":7.5,"v2":7.5,"v3":7.5,"v4":7.5,"v5":7.5},
{"p":"d","t":"s","x":6.5,"v1":5.9,"v2":5.9,"v3":5.9,"v4":5.9,"v5":5.9},
{"p":"d","t":"s","x":6.75,"v1":5.4,"v2":5.4,"v3":5.4,"v4":5.4,"v5":5.4},
{"p":"d","t":"s","x":7.0,"v1":5.8,"v2":5.8,"v3":5.8,"v4":5.8,"v5":5.8},
{"p":"d","t":"s","x":7.25,"v1":6.3,"v2":6.3,"v3":6.3,"v4":6.3,"v5":6.3},
{"p":"d","t":"s","x":7.5,"v1":6.1,"v2":6.1,"v3":6.1,"v4":6.1,"v5":6.1},
{"p":"d","t":"s","x":7.75,"v1":5.5,"v2":5.5,"v3":5.5,"v4":5.5,"v5":5.5},
{"p":"d","t":"s","x":8.0,"v1":5.1,"v2":5.1,"v3":5.1,"v4":5.1,"v5":5.1},
{"p":"d","t":"s","x":8.25,"v1":4.7,"v2":4.7,"v3":4.7,"v4":4.7,"v5":4.7},
{"p":"d","t":"s","x":8.5,"v1":3.3,"v2":3.3,"v3":3.3,"v4":3.3,"v5":3.3},
{"p":"d","t":"s","x":8.75,"v1":1.0,"v2":1.0,"v3":1.0,"v4":1.0,"v5":1.0},
{"p":"d","t":"s","x":8.9,"v1":0,"v2":0,"v3":0,"v4":0,"v5":0},
{"p":"d","t":"s","x":9.2,"v1":0,"v2":0,"v3":0,"v4":0,"v5":0},
{"p":"d","t":"d","x":0,"v1":0,"v2":0,"v3":0,"v4":0,"v5":0},
{"p":"d","t":"d","x":0.15,"v1":0.2,"v2":0.2,"v3":0.2,"v4":0.2,"v5":0.2},
{"p":"d","t":"d","x":0.4,"v1":0.9,"v2":0.9,"v3":0.9,"v4":0.9,"v5":0.9},
{"p":"d","t":"d","x":0.6,"v1":1.3,"v2":1.3,"v3":1.3,"v4":1.3,"v5":1.3},
{"p":"d","t":"d","x":0.8,"v1":1.6,"v2":1.6,"v3":1.6,"v4":1.6,"v5":1.6},
{"p":"d","t":"d","x":1.0,"v1":2.2,"v2":2.2,"v3":2.2,"v4":2.2,"v5":2.2},
{"p":"d","t":"d","x":1.25,"v1":3.9,"v2":3.9,"v3":3.9,"v4":3.9,"v5":3.9},
{"p":"d","t":"d","x":1.5,"v1":4.4,"v2":4.4,"v3":4.4,"v4":4.4,"v5":4.4},
{"p":"d","t":"d","x":1.75,"v1":4.8,"v2":4.8,"v3":4.8,"v4":4.8,"v5":4.8},
{"p":"d","t":"d","x":2.0,"v1":5.3,"v2":5.3,"v3":5.3,"v4":5.3,"v5":5.3},
{"p":"d","t":"d","x":2.25,"v1":5.7,"v2":5.7,"v3":5.7,"v4":5.7,"v5":5.7},
{"p":"d","t":"d","x":2.5,"v1":5.4,"v2":5.4,"v3":5.4,"v4":5.4,"v5":5.4},
{"p":"d","t":"d","x":2.75,"v1":4.4,"v2":4.4,"v3":4.4,"v4":4.4,"v5":4.4},
{"p":"d","t":"d","x":3.0,"v1":3.0,"v2":3.0,"v3":3.0,"v4":3.0,"v5":3.0},
{"p":"d","t":"d","x":3.25,"v1":1.9,"v2":1.9,"v3":1.9,"v4":1.9,"v5":1.9},
{"p":"d","t":"d","x":3.5,"v1":1.5,"v2":1.5,"v3":1.5,"v4":1.5,"v5":1.5},
{"p":"d","t":"d","x":3.75,"v1":2.1,"v2":2.1,"v3":2.1,"v4":2.1,"v5":2.1},
{"p":"d","t":"d","x":4.0,"v1":2.9,"v2":2.9,"v3":2.9,"v4":2.9,"v5":2.9},
{"p":"d","t":"d","x":4.25,"v1":3.4,"v2":3.4,"v3":3.4,"v4":3.4,"v5":3.4},
{"p":"d","t":"d","x":4.5,"v1":3.0,"v2":3.0,"v3":3.0,"v4":3.0,"v5":3.0},
{"p":"d","t":"d","x":4.75,"v1":1.8,"v2":1.8,"v3":1.8,"v4":1.8,"v5":1.8},
{"p":"d","t":"d","x":5.0,"v1":1.4,"v2":1.4,"v3":1.4,"v4":1.4,"v5":1.4},
{"p":"d","t":"d","x":5.25,"v1":1.2,"v2":1.2,"v3":1.2,"v4":1.2,"v5":1.2},
{"p":"d","t":"d","x":5.5,"v1":1.1,"v2":1.1,"v3":1.1,"v4":1.1,"v5":1.1},
{"p":"d","t":"d","x":5.75,"v1":1.0,"v2":1.0,"v3":1.0,"v4":1.0,"v5":1.0},
{"p":"d","t":"d","x":6.0,"v1":0.9,"v2":0.9,"v3":0.9,"v4":0.9,"v5":0.9},
{"p":"d","t":"d","x":6.25,"v1":1.0,"v2":1.0,"v3":1.0,"v4":1.0,"v5":1.0},
{"p":"d","t":"d","x":6.5,"v1":1.2,"v2":1.2,"v3":1.2,"v4":1.2,"v5":1.2},
{"p":"d","t":"d","x":6.75,"v1":1.1,"v2":1.1,"v3":1.1,"v4":1.1,"v5":1.1},
{"p":"d","t":"d","x":7.0,"v1":1.0,"v2":1.0,"v3":1.0,"v4":1.0,"v5":1.0},
{"p":"d","t":"d","x":7.25,"v1":0.8,"v2":0.8,"v3":0.8,"v4":0.8,"v5":0.8},
{"p":"d","t":"d","x":7.5,"v1":0.7,"v2":0.7,"v3":0.7,"v4":0.7,"v5":0.7},
{"p":"d","t":"d","x":7.75,"v1":0.6,"v2":0.6,"v3":0.6,"v4":0.6,"v5":0.6},
{"p":"d","t":"d","x":8.0,"v1":0.5,"v2":0.5,"v3":0.5,"v4":0.5,"v5":0.5},
{"p":"d","t":"d","x":8.25,"v1":0.4,"v2":0.4,"v3":0.4,"v4":0.4,"v5":0.4},
{"p":"d","t":"d","x":8.5,"v1":0.3,"v2":0.3,"v3":0.3,"v4":0.3,"v5":0.3},
{"p":"d","t":"d","x":8.75,"v1":0.1,"v2":0.1,"v3":0.1,"v4":0.1,"v5":0.1},
{"p":"d","t":"d","x":8.9,"v1":0,"v2":0,"v3":0,"v4":0,"v5":0},
{"p":"d","t":"d","x":9.2,"v1":0,"v2":0,"v3":0,"v4":0,"v5":0},
{"p":"e","t":"s","x":0,"v1":0,"v2":0,"v3":0,"v4":0,"v5":0},
{"p":"e","t":"s","x":0.15,"v1":1.3,"v2":1.5,"v3":1.6,"v4":1.7,"v5":1.8},
{"p":"e","t":"s","x":0.4,"v1":6.2,"v2":6.5,"v3":6.8,"v4":7.0,"v5":7.2},
{"p":"e","t":"s","x":0.6,"v1":11.7,"v2":11.9,"v3":12.1,"v4":12.3,"v5":12.5},
{"p":"e","t":"s","x":0.8,"v1":15.0,"v2":15.4,"v3":15.7,"v4":16.0,"v5":16.3},
{"p":"e","t":"s","x":1.0,"v1":16.8,"v2":17.3,"v3":17.8,"v4":18.2,"v5":18.6},
{"p":"e","t":"s","x":1.25,"v1":19.2,"v2":19.8,"v3":20.3,"v4":20.8,"v5":21.2},
{"p":"e","t":"s","x":1.5,"v1":21.6,"v2":22.2,"v3":22.6,"v4":23.1,"v5":23.5},
{"p":"e","t":"s","x":1.75,"v1":23.9,"v2":24.5,"v3":24.9,"v4":25.4,"v5":25.8},
{"p":"e","t":"s","x":2.0,"v1":26.1,"v2":26.6,"v3":27.0,"v4":27.5,"v5":27.8},
{"p":"e","t":"s","x":2.25,"v1":27.6,"v2":28.1,"v3":28.5,"v4":28.9,"v5":29.2},
{"p":"e","t":"s","x":2.5,"v1":27.7,"v2":28.1,"v3":28.4,"v4":28.7,"v5":29.0},
{"p":"e","t":"s","x":2.75,"v1":27.3,"v2":27.6,"v3":27.9,"v4":28.2,"v5":28.4},
{"p":"e","t":"s","x":3.0,"v1":28.4,"v2":28.7,"v3":29.0,"v4":29.2,"v5":29.4},
{"p":"e","t":"s","x":3.25,"v1":29.2,"v2":29.5,"v3":29.7,"v4":29.9,"v5":30.1},
{"p":"e","t":"s","x":3.5,"v1":30.2,"v2":30.4,"v3":30.6,"v4":30.8,"v5":31.0},
{"p":"e","t":"s","x":3.75,"v1":31.5,"v2":31.7,"v3":31.9,"v4":32.1,"v5":32.3},
{"p":"e","t":"s","x":4.0,"v1":33.1,"v2":33.3,"v3":33.5,"v4":33.7,"v5":33.9},
{"p":"e","t":"s","x":4.25,"v1":33.4,"v2":33.6,"v3":33.8,"v4":34.0,"v5":34.1},
{"p":"e","t":"s","x":4.5,"v1":31.3,"v2":31.5,"v3":31.6,"v4":31.7,"v5":31.8},
{"p":"e","t":"s","x":4.75,"v1":27.4,"v2":27.5,"v3":27.6,"v4":27.7,"v5":27.8},
{"p":"e","t":"s","x":5.0,"v1":23.1,"v2":23.2,"v3":23.3,"v4":23.4,"v5":23.5},
{"p":"e","t":"s","x":5.25,"v1":19.5,"v2":19.6,"v3":19.7,"v4":19.8,"v5":19.9},
{"p":"e","t":"s","x":5.5,"v1":16.9,"v2":17.0,"v3":17.1,"v4":17.1,"v5":17.2},
{"p":"e","t":"s","x":5.75,"v1":14.4,"v2":14.5,"v3":14.6,"v4":14.6,"v5":14.7},
{"p":"e","t":"s","x":6.0,"v1":10.9,"v2":11.0,"v3":11.1,"v4":11.1,"v5":11.2},
{"p":"e","t":"s","x":6.25,"v1":7.3,"v2":7.4,"v3":7.5,"v4":7.6,"v5":7.7},
{"p":"e","t":"s","x":6.5,"v1":5.6,"v2":5.8,"v3":5.9,"v4":6.0,"v5":6.1},
{"p":"e","t":"s","x":6.75,"v1":5.2,"v2":5.4,"v3":5.6,"v4":5.8,"v5":5.9},
{"p":"e","t":"s","x":7.0,"v1":5.6,"v2":5.9,"v3":6.1,"v4":6.3,"v5":6.5},
{"p":"e","t":"s","x":7.25,"v1":6.0,"v2":6.3,"v3":6.6,"v4":6.8,"v5":7.0},
{"p":"e","t":"s","x":7.5,"v1":5.7,"v2":6.1,"v3":6.4,"v4":6.7,"v5":6.9},
{"p":"e","t":"s","x":7.75,"v1":5.1,"v2":5.5,"v3":5.9,"v4":6.2,"v5":6.5},
{"p":"e","t":"s","x":8.0,"v1":4.7,"v2":5.2,"v3":5.5,"v4":5.9,"v5":6.2},
{"p":"e","t":"s","x":8.25,"v1":4.2,"v2":4.7,"v3":5.1,"v4":5.5,"v5":5.8},
{"p":"e","t":"s","x":8.5,"v1":3.0,"v2":3.5,"v3":4.0,"v4":4.4,"v5":4.8},
{"p":"e","t":"s","x":8.75,"v1":1.0,"v2":1.5,"v3":1.8,"v4":2.2,"v5":2.5},
{"p":"e","t":"s","x":8.9,"v1":0,"v2":0.1,"v3":0.2,"v4":0.2,"v5":0.3},
{"p":"e","t":"s","x":9.2,"v1":0,"v2":0,"v3":0,"v4":0,"v5":0},
{"p":"e","t":"d","x":0,"v1":0,"v2":0,"v3":0,"v4":0,"v5":0},
{"p":"e","t":"d","x":0.15,"v1":0.2,"v2":0.2,"v3":0.2,"v4":0.2,"v5":0.2},
{"p":"e","t":"d","x":0.4,"v1":0.6,"v2":0.8,"v3":0.9,"v4":1.0,"v5":1.1},
{"p":"e","t":"d","x":0.6,"v1":1.0,"v2":1.8,"v3":2.2,"v4":2.6,"v5":2.9},
{"p":"e","t":"d","x":0.8,"v1":1.3,"v2":2.8,"v3":3.3,"v4":3.6,"v5":3.8},
{"p":"e","t":"d","x":1.0,"v1":1.6,"v2":3.3,"v3":3.7,"v4":3.8,"v5":3.9},
{"p":"e","t":"d","x":1.25,"v1":1.8,"v2":3.9,"v3":4.0,"v4":4.0,"v5":4.1},
{"p":"e","t":"d","x":1.5,"v1":3.6,"v2":4.2,"v3":4.3,"v4":4.3,"v5":4.4},
{"p":"e","t":"d","x":1.75,"v1":4.6,"v2":4.6,"v3":4.6,"v4":4.7,"v5":4.7},
{"p":"e","t":"d","x":2.0,"v1":5.3,"v2":5.3,"v3":5.3,"v4":5.3,"v5":5.3},
{"p":"e","t":"d","x":2.25,"v1":5.7,"v2":5.7,"v3":5.7,"v4":5.7,"v5":5.7},
{"p":"e","t":"d","x":2.5,"v1":5.5,"v2":5.5,"v3":5.5,"v4":5.5,"v5":5.5},
{"p":"e","t":"d","x":2.75,"v1":4.6,"v2":4.6,"v3":4.6,"v4":4.6,"v5":4.6},
{"p":"e","t":"d","x":3.0,"v1":3.3,"v2":3.3,"v3":3.3,"v4":3.3,"v5":3.3},
{"p":"e","t":"d","x":3.25,"v1":2.1,"v2":2.1,"v3":2.1,"v4":2.1,"v5":2.1},
{"p":"e","t":"d","x":3.5,"v1":1.5,"v2":1.5,"v3":1.5,"v4":1.5,"v5":1.5},
{"p":"e","t":"d","x":3.75,"v1":2.0,"v2":2.0,"v3":2.0,"v4":2.0,"v5":2.0},
{"p":"e","t":"d","x":4.0,"v1":2.8,"v2":2.8,"v3":2.8,"v4":2.8,"v5":2.8},
{"p":"e","t":"d","x":4.25,"v1":3.4,"v2":3.4,"v3":3.4,"v4":3.4,"v5":3.4},
{"p":"e","t":"d","x":4.5,"v1":3.0,"v2":3.0,"v3":3.0,"v4":3.0,"v5":3.0},
{"p":"e","t":"d","x":4.75,"v1":1.9,"v2":1.9,"v3":1.9,"v4":1.9,"v5":1.9},
{"p":"e","t":"d","x":5.0,"v1":1.4,"v2":1.4,"v3":1.4,"v4":1.4,"v5":1.4},
{"p":"e","t":"d","x":5.25,"v1":1.2,"v2":1.2,"v3":1.2,"v4":1.2,"v5":1.2},
{"p":"e","t":"d","x":5.5,"v1":1.1,"v2":1.1,"v3":1.1,"v4":1.1,"v5":1.1},
{"p":"e","t":"d","x":5.75,"v1":1.0,"v2":1.0,"v3":1.0,"v4":1.0,"v5":1.0},
{"p":"e","t":"d","x":6.0,"v1":0.9,"v2":0.9,"v3":0.9,"v4":0.9,"v5":0.9},
{"p":"e","t":"d","x":6.25,"v1":0.9,"v2":0.9,"v3":0.9,"v4":1.0,"v5":1.0},
{"p":"e","t":"d","x":6.5,"v1":0.8,"v2":0.9,"v3":1.0,"v4":1.1,"v5":1.2},
{"p":"e","t":"d","x":6.75,"v1":0.7,"v2":0.9,"v3":1.0,"v4":1.2,"v5":1.5},
{"p":"e","t":"d","x":7.0,"v1":0.6,"v2":0.8,"v3":1.1,"v4":1.4,"v5":1.7},
{"p":"e","t":"d","x":7.25,"v1":0.5,"v2":0.8,"v3":1.2,"v4":1.6,"v5":2.0},
{"p":"e","t":"d","x":7.5,"v1":0.5,"v2":0.7,"v3":1.1,"v4":1.5,"v5":1.8},
{"p":"e","t":"d","x":7.75,"v1":0.4,"v2":0.6,"v3":1.0,"v4":1.4,"v5":1.7},
{"p":"e","t":"d","x":8.0,"v1":0.3,"v2":0.5,"v3":0.9,"v4":1.3,"v5":1.6},
{"p":"e","t":"d","x":8.25,"v1":0.3,"v2":0.4,"v3":0.8,"v4":1.1,"v5":1.4},
{"p":"e","t":"d","x":8.5,"v1":0.2,"v2":0.3,"v3":0.6,"v4":0.9,"v5":1.1},
{"p":"e","t":"d","x":8.75,"v1":0.1,"v2":0.2,"v3":0.3,"v4":0.5,"v5":0.7},
{"p":"e","t":"d","x":8.9,"v1":0,"v2":0,"v3":0.1,"v4":0.1,"v5":0.2},
{"p":"e","t":"d","x":9.2,"v1":0,"v2":0,"v3":0,"v4":0,"v5":0},
{"p":"f","t":"s","x":0,"v1":0,"v2":0,"v3":0,"v4":0,"v5":0},
{"p":"f","t":"s","x":0.15,"v1":1.2,"v2":1.4,"v3":1.6,"v4":1.8,"v5":2.0},
{"p":"f","t":"s","x":0.4,"v1":5.8,"v2":6.2,"v3":6.5,"v4":6.8,"v5":7.2},
{"p":"f","t":"s","x":0.6,"v1":11.2,"v2":11.6,"v3":11.8,"v4":12.1,"v5":12.4},
{"p":"f","t":"s","x":0.8,"v1":14.3,"v2":14.7,"v3":15.0,"v4":15.2,"v5":15.6},
{"p":"f","t":"s","x":1.0,"v1":16.6,"v2":17.1,"v3":17.4,"v4":17.8,"v5":18.2},
{"p":"f","t":"s","x":1.25,"v1":19.4,"v2":20.0,"v3":20.5,"v4":20.9,"v5":21.5},
{"p":"f","t":"s","x":1.5,"v1":21.3,"v2":22.3,"v3":23.1,"v4":23.8,"v5":24.7},
{"p":"f","t":"s","x":1.75,"v1":23.2,"v2":24.5,"v3":25.4,"v4":26.3,"v5":27.5},
{"p":"f","t":"s","x":2.0,"v1":24.6,"v2":26.1,"v3":27.3,"v4":28.3,"v5":29.7},
{"p":"f","t":"s","x":2.25,"v1":25.4,"v2":27.2,"v3":28.5,"v4":29.8,"v5":31.4},
{"p":"f","t":"s","x":2.5,"v1":25.0,"v2":26.9,"v3":28.3,"v4":29.6,"v5":31.3},
{"p":"f","t":"s","x":2.75,"v1":24.7,"v2":26.5,"v3":27.8,"v4":29.1,"v5":30.7},
{"p":"f","t":"s","x":3.0,"v1":25.5,"v2":27.6,"v3":29.1,"v4":30.6,"v5":32.5},
{"p":"f","t":"s","x":3.25,"v1":25.9,"v2":28.2,"v3":30.0,"v4":31.6,"v5":33.7},
{"p":"f","t":"s","x":3.5,"v1":26.5,"v2":29.0,"v3":30.8,"v4":32.6,"v5":34.8},
{"p":"f","t":"s","x":3.75,"v1":27.2,"v2":30.0,"v3":32.1,"v4":34.1,"v5":36.6},
{"p":"f","t":"s","x":4.0,"v1":27.9,"v2":31.1,"v3":33.4,"v4":35.6,"v5":38.4},
{"p":"f","t":"s","x":4.25,"v1":28.3,"v2":31.5,"v3":33.9,"v4":36.2,"v5":39.1},
{"p":"f","t":"s","x":4.5,"v1":26.8,"v2":29.8,"v3":32.0,"v4":34.1,"v5":36.8},
{"p":"f","t":"s","x":4.75,"v1":23.3,"v2":25.9,"v3":27.7,"v4":29.5,"v5":31.8},
{"p":"f","t":"s","x":5.0,"v1":19.8,"v2":21.8,"v3":23.3,"v4":24.8,"v5":26.6},
{"p":"f","t":"s","x":5.25,"v1":16.2,"v2":17.9,"v3":19.1,"v4":20.3,"v5":21.8},
{"p":"f","t":"s","x":5.5,"v1":13.8,"v2":15.3,"v3":16.4,"v4":17.4,"v5":18.8},
{"p":"f","t":"s","x":5.75,"v1":11.8,"v2":13.1,"v3":14.1,"v4":15.0,"v5":16.2},
{"p":"f","t":"s","x":6.0,"v1":9.0,"v2":10.3,"v3":11.2,"v4":12.1,"v5":13.3},
{"p":"f","t":"s","x":6.25,"v1":5.0,"v2":6.2,"v3":7.1,"v4":8.0,"v5":9.1},
{"p":"f","t":"s","x":6.5,"v1":4.2,"v2":5.0,"v3":5.5,"v4":6.0,"v5":6.7},
{"p":"f","t":"s","x":6.75,"v1":4.4,"v2":5.1,"v3":5.5,"v4":6.0,"v5":6.6},
{"p":"f","t":"s","x":7.0,"v1":4.8,"v2":5.5,"v3":5.9,"v4":6.4,"v5":7.0},
{"p":"f","t":"s","x":7.25,"v1":5.2,"v2":5.9,"v3":6.3,"v4":6.8,"v5":7.4},
{"p":"f","t":"s","x":7.5,"v1":5.0,"v2":5.6,"v3":6.0,"v4":6.5,"v5":7.0},
{"p":"f","t":"s","x":7.75,"v1":4.6,"v2":5.1,"v3":5.5,"v4":5.8,"v5":6.3},
{"p":"f","t":"s","x":8.0,"v1":4.2,"v2":4.6,"v3":4.9,"v4":5.2,"v5":5.6},
{"p":"f","t":"s","x":8.25,"v1":3.9,"v2":4.2,"v3":4.4,"v4":4.6,"v5":4.8},
{"p":"f","t":"s","x":8.5,"v1":2.8,"v2":3.0,"v3":3.1,"v4":3.2,"v5":3.3},
{"p":"f","t":"s","x":8.75,"v1":0.7,"v2":0.8,"v3":0.8,"v4":0.8,"v5":0.9},
{"p":"f","t":"s","x":8.9,"v1":0,"v2":0,"v3":0,"v4":0,"v5":0},
{"p":"f","t":"s","x":9.2,"v1":0,"v2":0,"v3":0,"v4":0,"v5":0},
{"p":"f","t":"d","x":0,"v1":0,"v2":0,"v3":0,"v4":0,"v5":0},
{"p":"f","t":"d","x":0.15,"v1":0.1,"v2":0.1,"v3":0.1,"v4":0.2,"v5":0.2},
{"p":"f","t":"d","x":0.4,"v1":0.4,"v2":0.5,"v3":0.5,"v4":0.6,"v5":0.6},
{"p":"f","t":"d","x":0.6,"v1":0.7,"v2":0.8,"v3":0.9,"v4":0.9,"v5":1.0},
{"p":"f","t":"d","x":0.8,"v1":1.0,"v2":1.1,"v3":1.2,"v4":1.3,"v5":1.3},
{"p":"f","t":"d","x":1.0,"v1":1.4,"v2":1.5,"v3":1.7,"v4":1.9,"v5":2.0},
{"p":"f","t":"d","x":1.25,"v1":2.5,"v2":3.0,"v3":3.4,"v4":3.9,"v5":4.3},
{"p":"f","t":"d","x":1.5,"v1":2.9,"v2":3.5,"v3":4.0,"v4":4.6,"v5":5.1},
{"p":"f","t":"d","x":1.75,"v1":3.2,"v2":3.9,"v3":4.6,"v4":5.2,"v5":5.8},
{"p":"f","t":"d","x":2.0,"v1":3.5,"v2":4.3,"v3":5.0,"v4":5.7,"v5":6.5},
{"p":"f","t":"d","x":2.25,"v1":3.7,"v2":4.5,"v3":5.3,"v4":6.0,"v5":6.9},
{"p":"f","t":"d","x":2.5,"v1":3.5,"v2":4.3,"v3":5.0,"v4":5.7,"v5":6.5},
{"p":"f","t":"d","x":2.75,"v1":2.9,"v2":3.5,"v3":4.1,"v4":4.7,"v5":5.3},
{"p":"f","t":"d","x":3.0,"v1":2.0,"v2":2.6,"v3":3.2,"v4":3.8,"v5":4.5},
{"p":"f","t":"d","x":3.25,"v1":1.2,"v2":1.8,"v3":2.4,"v4":3.0,"v5":3.7},
{"p":"f","t":"d","x":3.5,"v1":0.8,"v2":1.4,"v3":2.0,"v4":2.6,"v5":3.3},
{"p":"f","t":"d","x":3.75,"v1":0.8,"v2":1.6,"v3":2.4,"v4":3.2,"v5":4.2},
{"p":"f","t":"d","x":4.0,"v1":0.9,"v2":2.0,"v3":2.9,"v4":4.0,"v5":5.5},
{"p":"f","t":"d","x":4.25,"v1":1.0,"v2":2.3,"v3":3.3,"v4":4.6,"v5":6.3},
{"p":"f","t":"d","x":4.5,"v1":0.9,"v2":2.1,"v3":3.0,"v4":4.2,"v5":5.7},
{"p":"f","t":"d","x":4.75,"v1":0.6,"v2":1.4,"v3":2.1,"v4":3.0,"v5":4.0},
{"p":"f","t":"d","x":5.0,"v1":0.5,"v2":1.0,"v3":1.5,"v4":2.2,"v5":2.9},
{"p":"f","t":"d","x":5.25,"v1":0.4,"v2":0.9,"v3":1.4,"v4":1.9,"v5":2.6},
{"p":"f","t":"d","x":5.5,"v1":0.4,"v2":0.8,"v3":1.3,"v4":1.7,"v5":2.3},
{"p":"f","t":"d","x":5.75,"v1":0.3,"v2":0.7,"v3":1.1,"v4":1.5,"v5":2.0},
{"p":"f","t":"d","x":6.0,"v1":0.3,"v2":0.6,"v3":1.0,"v4":1.3,"v5":1.8},
{"p":"f","t":"d","x":6.25,"v1":0.3,"v2":0.6,"v3":0.9,"v4":1.2,"v5":1.6},
{"p":"f","t":"d","x":6.5,"v1":0.3,"v2":0.5,"v3":0.8,"v4":1.1,"v5":1.4},
{"p":"f","t":"d","x":6.75,"v1":0.3,"v2":0.5,"v3":0.8,"v4":1.1,"v5":1.4},
{"p":"f","t":"d","x":7.0,"v1":0.2,"v2":0.5,"v3":0.8,"v4":1.0,"v5":1.3},
{"p":"f","t":"d","x":7.25,"v1":0.2,"v2":0.4,"v3":0.7,"v4":1.0,"v5":1.3},
{"p":"f","t":"d","x":7.5,"v1":0.2,"v2":0.4,"v3":0.6,"v4":0.8,"v5":1.1},
{"p":"f","t":"d","x":7.75,"v1":0.1,"v2":0.3,"v3":0.5,"v4":0.7,"v5":0.9},
{"p":"f","t":"d","x":8.0,"v1":0.1,"v2":0.2,"v3":0.4,"v4":0.5,"v5":0.7},
{"p":"f","t":"d","x":8.25,"v1":0.1,"v2":0.2,"v3":0.3,"v4":0.4,"v5":0.5},
{"p":"f","t":"d","x":8.5,"v1":0.1,"v2":0.1,"v3":0.2,"v4":0.3,"v5":0.4},
{"p":"f","t":"d","x":8.75,"v1":0,"v2":0.1,"v3":0.1,"v4":0.1,"v5":0.2},
{"p":"f","t":"d","x":8.9,"v1":0,"v2":0,"v3":0,"v4":0,"v5":0},
{"p":"f","t":"d","x":9.2,"v1":0,"v2":0,"v3":0,"v4":0,"v5":0}
]},
"concat":[
{"width":518,"height":185,"title":"Varying bedrock bump wavelength","layer":[
{"data":{"name":"lines"},"transform":[{"filter":"datum.p==='a'"},{"fold":["v1","v2","v3","v4","v5"],"as":["k","v"]},{"filter":"isValid(datum.v)"}],
"mark":{"type":"line","strokeWidth":1.4,"interpolate":"monotone","clip":true},
"encoding":{"x":{"field":"x","type":"quantitative","scale":{"domain":[0,9.2],"nice":false,"zero":false},"axis":{"values":[0,2,4,6,8],"labels":false,"title":null}},
"y":{"field":"v","type":"quantitative","scale":{"domain":[0,52],"nice":false},"axis":{"values":[0,20,40],"title":null}},
"color":{"field":"k","type":"nominal","scale":{"domain":["v1","v2","v3","v4","v5"],"range":["#ff0d1f","#ffe600","#00ee00","#00e6ff","#2020ff"]},"legend":{"title":null,"labelExpr":"['λₘₐₓ=2 m','λₘₐₓ=4 m','λₘₐₓ=6 m','λₘₐₓ=9 m','λₘₐₓ=12 m'][indexof(['v1','v2','v3','v4','v5'],datum.label)]"}},
"strokeDash":{"field":"t","type":"nominal","scale":{"domain":["s","d"],"range":[[1,0],[7,3.5]]},"legend":null}}},
{"data":{"name":"obs"},"mark":{"type":"point","filled":true,"fill":"black","stroke":"black","strokeWidth":1.3,"size":55,"opacity":1},
"encoding":{"x":{"field":"x","type":"quantitative"},"y":{"field":"y","type":"quantitative"},"shape":{"field":"m","type":"nominal","scale":{"domain":["circle","square","plus","star"],"range":["circle","square","M-1,0H1M0,-1V1","M0,-1L0.235,-0.324L0.951,-0.309L0.38,0.124L0.588,0.809L0,0.4L-0.588,0.809L-0.38,0.124L-0.951,-0.309L-0.235,-0.324Z"]},"legend":null}}},
{"data":{"values":[{"lab":"(a)"}]},"mark":{"type":"text","align":"left","baseline":"middle","fontSize":16},"encoding":{"x":{"datum":0.27},"y":{"datum":44.4},"text":{"field":"lab"}}}
]},
{"width":516,"height":185,"title":"Varying bedrock bump slope","layer":[
{"data":{"name":"lines"},"transform":[{"filter":"datum.p==='b'"},{"fold":["v1","v2","v3","v4","v5"],"as":["k","v"]},{"filter":"isValid(datum.v)"}],
"mark":{"type":"line","strokeWidth":1.4,"interpolate":"monotone","clip":true},
"encoding":{"x":{"field":"x","type":"quantitative","scale":{"domain":[0,9.16],"nice":false,"zero":false},"axis":{"values":[0,2,4,6,8],"labels":false,"title":null}},
"y":{"field":"v","type":"quantitative","scale":{"domain":[0,52],"nice":false},"axis":{"values":[0,20,40],"labels":false,"title":null}},
"color":{"field":"k","type":"nominal","scale":{"domain":["v1","v2","v3","v4","v5"],"range":["#ff0d1f","#ffe600","#00ee00","#00e6ff","#2020ff"]},"legend":{"title":null,"labelExpr":"['mₘₐₓ=0.1','mₘₐₓ=0.2','mₘₐₓ=0.3','mₘₐₓ=0.4','mₘₐₓ=0.5'][indexof(['v1','v2','v3','v4','v5'],datum.label)]"}},
"strokeDash":{"field":"t","type":"nominal","scale":{"domain":["s","d"],"range":[[1,0],[7,3.5]]},"legend":null}}},
{"data":{"name":"obs"},"mark":{"type":"point","filled":true,"fill":"black","stroke":"black","strokeWidth":1.3,"size":55,"opacity":1},
"encoding":{"x":{"field":"x","type":"quantitative"},"y":{"field":"y","type":"quantitative"},"shape":{"field":"m","type":"nominal","scale":{"domain":["circle","square","plus","star"],"range":["circle","square","M-1,0H1M0,-1V1","M0,-1L0.235,-0.324L0.951,-0.309L0.38,0.124L0.588,0.809L0,0.4L-0.588,0.809L-0.38,0.124L-0.951,-0.309L-0.235,-0.324Z"]},"legend":null}}},
{"data":{"values":[{"lab":"(b)"}]},"mark":{"type":"text","align":"left","baseline":"middle","fontSize":16},"encoding":{"x":{"datum":0.27},"y":{"datum":44.4},"text":{"field":"lab"}}}
]},
{"width":518,"height":185,"title":"Varing ratio of effective pressure","layer":[
{"data":{"name":"lines"},"transform":[{"filter":"datum.p==='c'"},{"fold":["v1","v2","v3","v4","v5"],"as":["k","v"]},{"filter":"isValid(datum.v)"}],
"mark":{"type":"line","strokeWidth":1.4,"interpolate":"monotone","clip":true},
"encoding":{"x":{"field":"x","type":"quantitative","scale":{"domain":[0,9.2],"nice":false,"zero":false},"axis":{"values":[0,2,4,6,8],"labels":false,"title":null}},
"y":{"field":"v","type":"quantitative","scale":{"domain":[0,52],"nice":false},"axis":{"values":[0,20,40],"title":"Velocity (m a⁻¹)","titlePadding":8}},
"color":{"field":"k","type":"nominal","scale":{"domain":["v1","v2","v3","v4","v5"],"range":["#ff0d1f","#ffe600","#00ee00","#00e6ff","#2020ff"]},"legend":{"title":null,"labelExpr":"['ϕ=0.2','ϕ=0.3','ϕ=0.4','ϕ=0.8','ϕ=1'][indexof(['v1','v2','v3','v4','v5'],datum.label)]"}},
"strokeDash":{"field":"t","type":"nominal","scale":{"domain":["s","d"],"range":[[1,0],[7,3.5]]},"legend":null}}},
{"data":{"name":"obs"},"mark":{"type":"point","filled":true,"fill":"black","stroke":"black","strokeWidth":1.3,"size":55,"opacity":1},
"encoding":{"x":{"field":"x","type":"quantitative"},"y":{"field":"y","type":"quantitative"},"shape":{"field":"m","type":"nominal","scale":{"domain":["circle","square","plus","star"],"range":["circle","square","M-1,0H1M0,-1V1","M0,-1L0.235,-0.324L0.951,-0.309L0.38,0.124L0.588,0.809L0,0.4L-0.588,0.809L-0.38,0.124L-0.951,-0.309L-0.235,-0.324Z"]},"legend":null}}},
{"data":{"values":[{"lab":"(c)"}]},"mark":{"type":"text","align":"left","baseline":"middle","fontSize":16},"encoding":{"x":{"datum":0.27},"y":{"datum":44.4},"text":{"field":"lab"}}}
]},
{"width":516,"height":185,"title":"Varying water content","layer":[
{"data":{"name":"lines"},"transform":[{"filter":"datum.p==='d'"},{"fold":["v1","v2","v3","v4","v5"],"as":["k","v"]},{"filter":"isValid(datum.v)"}],
"mark":{"type":"line","strokeWidth":1.4,"interpolate":"monotone","clip":true},
"encoding":{"x":{"field":"x","type":"quantitative","scale":{"domain":[0,9.16],"nice":false,"zero":false},"axis":{"values":[0,2,4,6,8],"labels":false,"title":null}},
"y":{"field":"v","type":"quantitative","scale":{"domain":[0,52],"nice":false},"axis":{"values":[0,20,40],"labels":false,"title":null}},
"color":{"field":"k","type":"nominal","scale":{"domain":["v1","v2","v3","v4","v5"],"range":["#ff0d1f","#ffe600","#00ee00","#00e6ff","#2020ff"]},"legend":{"title":null,"labelExpr":"['μ=0.5%','μ=0.8%','μ=1%','μ=3%','μ=5%'][indexof(['v1','v2','v3','v4','v5'],datum.label)]"}},
"strokeDash":{"field":"t","type":"nominal","scale":{"domain":["s","d"],"range":[[1,0],[7,3.5]]},"legend":null}}},
{"data":{"name":"obs"},"mark":{"type":"point","filled":true,"fill":"black","stroke":"black","strokeWidth":1.3,"size":55,"opacity":1},
"encoding":{"x":{"field":"x","type":"quantitative"},"y":{"field":"y","type":"quantitative"},"shape":{"field":"m","type":"nominal","scale":{"domain":["circle","square","plus","star"],"range":["circle","square","M-1,0H1M0,-1V1","M0,-1L0.235,-0.324L0.951,-0.309L0.38,0.124L0.588,0.809L0,0.4L-0.588,0.809L-0.38,0.124L-0.951,-0.309L-0.235,-0.324Z"]},"legend":null}}},
{"data":{"values":[{"lab":"(d)"}]},"mark":{"type":"text","align":"left","baseline":"middle","fontSize":16},"encoding":{"x":{"datum":0.27},"y":{"datum":44.4},"text":{"field":"lab"}}}
]},
{"width":518,"height":185,"title":"Varying geothermal flux","layer":[
{"data":{"name":"lines"},"transform":[{"filter":"datum.p==='e'"},{"fold":["v1","v2","v3","v4","v5"],"as":["k","v"]},{"filter":"isValid(datum.v)"}],
"mark":{"type":"line","strokeWidth":1.4,"interpolate":"monotone","clip":true},
"encoding":{"x":{"field":"x","type":"quantitative","scale":{"domain":[0,9.2],"nice":false,"zero":false},"axis":{"values":[0,2,4,6,8],"title":"Horizontal distance (km)","titlePadding":12}},
"y":{"field":"v","type":"quantitative","scale":{"domain":[0,52],"nice":false},"axis":{"values":[0,20,40],"title":null}},
"color":{"field":"k","type":"nominal","scale":{"domain":["v1","v2","v3","v4","v5"],"range":["#ff0d1f","#ffe600","#00ee00","#00e6ff","#2020ff"]},"legend":{"title":null,"labelExpr":"['G=30 mW m⁻²','G=40 mW m⁻²','G=45 mW m⁻²','G=50 mW m⁻²','G=60 mW m⁻²'][indexof(['v1','v2','v3','v4','v5'],datum.label)]"}},
"strokeDash":{"field":"t","type":"nominal","scale":{"domain":["s","d"],"range":[[1,0],[7,3.5]]},"legend":null}}},
{"data":{"name":"obs"},"mark":{"type":"point","filled":true,"fill":"black","stroke":"black","strokeWidth":1.3,"size":55,"opacity":1},
"encoding":{"x":{"field":"x","type":"quantitative"},"y":{"field":"y","type":"quantitative"},"shape":{"field":"m","type":"nominal","scale":{"domain":["circle","square","plus","star"],"range":["circle","square","M-1,0H1M0,-1V1","M0,-1L0.235,-0.324L0.951,-0.309L0.38,0.124L0.588,0.809L0,0.4L-0.588,0.809L-0.38,0.124L-0.951,-0.309L-0.235,-0.324Z"]},"legend":null}}},
{"data":{"values":[{"lab":"(e)"}]},"mark":{"type":"text","align":"left","baseline":"middle","fontSize":16},"encoding":{"x":{"datum":0.27},"y":{"datum":44.4},"text":{"field":"lab"}}}
]},
{"width":516,"height":185,"title":"Varying index b","layer":[
{"data":{"name":"lines"},"transform":[{"filter":"datum.p==='f'"},{"fold":["v1","v2","v3","v4","v5"],"as":["k","v"]},{"filter":"isValid(datum.v)"}],
"mark":{"type":"line","strokeWidth":1.4,"interpolate":"monotone","clip":true},
"encoding":{"x":{"field":"x","type":"quantitative","scale":{"domain":[0,9.16],"nice":false,"zero":false},"axis":{"values":[0,2,4,6,8],"title":"Horizontal distance (km)","titlePadding":12}},
"y":{"field":"v","type":"quantitative","scale":{"domain":[0,52],"nice":false},"axis":{"values":[0,20,40],"labels":false,"title":null}},
"color":{"field":"k","type":"nominal","scale":{"domain":["v1","v2","v3","v4","v5"],"range":["#ff0d1f","#ffe600","#00ee00","#00e6ff","#2020ff"]},"legend":{"title":null,"labelExpr":"['b=1','b=1.1','b=1.2','b=1.3','b=1.5'][indexof(['v1','v2','v3','v4','v5'],datum.label)]"}},
"strokeDash":{"field":"t","type":"nominal","scale":{"domain":["s","d"],"range":[[1,0],[7,3.5]]},"legend":null}}},
{"data":{"name":"obs"},"mark":{"type":"point","filled":true,"fill":"black","stroke":"black","strokeWidth":1.3,"size":55,"opacity":1},
"encoding":{"x":{"field":"x","type":"quantitative"},"y":{"field":"y","type":"quantitative"},"shape":{"field":"m","type":"nominal","scale":{"domain":["circle","square","plus","star"],"range":["circle","square","M-1,0H1M0,-1V1","M0,-1L0.235,-0.324L0.951,-0.309L0.38,0.124L0.588,0.809L0,0.4L-0.588,0.809L-0.38,0.124L-0.951,-0.309L-0.235,-0.324Z"]},"legend":null}}},
{"data":{"values":[{"lab":"(f)"}]},"mark":{"type":"text","align":"left","baseline":"middle","fontSize":16},"encoding":{"x":{"datum":0.27},"y":{"datum":44.4},"text":{"field":"lab"}}}
]}
]
}
